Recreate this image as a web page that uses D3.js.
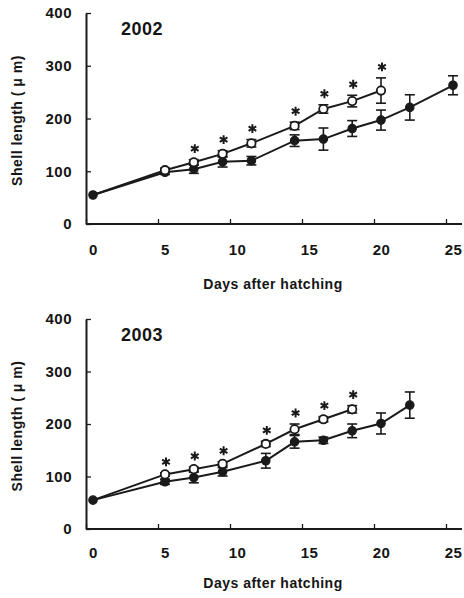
<!DOCTYPE html>
<html>
<head>
<meta charset="utf-8">
<script src="https://cdn.jsdelivr.net/npm/d3@7"></script>
<style>
  body { margin: 0; background: #fff; }
  text { font-family: "Liberation Sans", Arial, sans-serif; font-weight: bold; fill: #151515; }
</style>
</head>
<body>
<div id="chart"></div>
<script>
// 2002 season
let days2002A = [0, 5, 7, 9, 11, 14, 16, 18, 20];
let len2002A = [55, 102, 117, 133, 153, 186, 218, 233, 253];
let err2002A = [0, 4, 5, 6, 7, 7, 8, 11, 24];
let days2002B = [0, 5, 7, 9, 11, 14, 16, 18, 20, 22, 25];
let len2002B = [55, 98, 104, 118, 120, 158, 161, 181, 197, 221, 263];
let err2002B = [0, 4, 8, 10, 8, 11, 21, 15, 19, 24, 18];
let sig2002 = [7, 9, 11, 14, 16, 18, 20];

// 2003 season
let days2003A = [0, 5, 7, 9, 12, 14, 16, 18];
let len2003A = [55, 104, 114, 124, 162, 190, 209, 228];
let err2003A = [0, 3, 4, 4, 5, 10, 5, 7];
let days2003B = [0, 5, 7, 9, 12, 14, 16, 18, 20, 22];
let len2003B = [55, 90, 98, 109, 130, 166, 169, 187, 201, 236];
let err2003B = [0, 5, 10, 8, 14, 12, 6, 13, 20, 25];
let sig2003 = [5, 7, 9, 12, 14, 16, 18];

let xTicks = [0, 5, 10, 15, 20, 25];
let yTicks = [0, 100, 200, 300, 400];

const W = 464, H = 598;
const ink = "#1a1a1a";

const svg = d3.select("#chart").append("svg")
    .attr("width", W)
    .attr("height", H);

function zip(days, vals, errs) {
    return days.map((d, i) => ({ day: d, v: vals[i], e: errs[i] }));
}

function panel(opts) {
    const g = svg.append("g");
    const axisX = 86;

    const x = d3.scaleLinear().domain([0, 25]).range([93, 453]);
    const y = d3.scaleLinear().domain([0, 400]).range([opts.bottom, opts.top]);

    // y axis, ticks point inward
    const yAxis = g.append("g")
        .attr("transform", `translate(${axisX},0)`)
        .call(d3.axisLeft(y).tickValues(yTicks).tickSizeInner(-5).tickSizeOuter(0).tickPadding(14));
    yAxis.select(".domain").attr("stroke", ink).attr("stroke-width", 2);
    yAxis.selectAll(".tick line").attr("stroke", ink).attr("stroke-width", 1.3);
    yAxis.selectAll("text").style("font-size", "15px").style("letter-spacing", "0.5px").attr("fill", ink);

    // x axis, labels from the axis, tick marks drawn a little left as in the print
    const xAxis = g.append("g")
        .attr("transform", `translate(0,${opts.bottom})`)
        .call(d3.axisBottom(x).tickValues(xTicks).tickSize(0).tickPadding(opts.labelPad));
    xAxis.select(".domain").remove();
    xAxis.selectAll("text").style("font-size", "15px").style("letter-spacing", "0.5px").attr("fill", ink);
    xAxis.selectAll(".tick").append("line")
        .attr("x1", -7).attr("x2", -7)
        .attr("y1", 0).attr("y2", -5)
        .attr("stroke", ink).attr("stroke-width", 1.3);
    g.append("line")
        .attr("x1", axisX).attr("x2", 462)
        .attr("y1", opts.bottom).attr("y2", opts.bottom)
        .attr("stroke", ink).attr("stroke-width", 2);

    g.append("text")
        .attr("x", 142).attr("y", opts.top + 22)
        .attr("text-anchor", "middle")
        .style("font-size", "18px")
        .style("letter-spacing", "0.5px")
        .text(opts.year);

    g.append("text")
        .attr("transform", `translate(22,${(opts.top + opts.bottom) / 2 + 2}) rotate(-90)`)
        .attr("text-anchor", "middle")
        .style("font-size", "14px")
        .style("letter-spacing", "0.5px")
        .text("Shell length ( μ m)");

    g.append("text")
        .attr("x", 273).attr("y", opts.bottom + opts.titlePad)
        .attr("text-anchor", "middle")
        .style("font-size", "14px")
        .style("letter-spacing", "0.5px")
        .text("Days after hatching");

    const line = d3.line().x(d => x(d.day)).y(d => y(d.v));

    [opts.b, opts.a].forEach(function(s) {
        g.append("path")
            .datum(s)
            .attr("d", line)
            .attr("fill", "none")
            .attr("stroke", ink)
            .attr("stroke-width", 2);

        const eb = g.append("g").selectAll("g")
            .data(s.filter(d => d.e > 0))
            .enter().append("g")
            .attr("stroke", ink)
            .attr("stroke-width", 1.6);
        eb.append("line")
            .attr("x1", d => x(d.day)).attr("x2", d => x(d.day))
            .attr("y1", d => y(d.v - d.e)).attr("y2", d => y(d.v + d.e));
        eb.append("line")
            .attr("x1", d => x(d.day) - 5).attr("x2", d => x(d.day) + 5)
            .attr("y1", d => y(d.v + d.e)).attr("y2", d => y(d.v + d.e));
        eb.append("line")
            .attr("x1", d => x(d.day) - 5).attr("x2", d => x(d.day) + 5)
            .attr("y1", d => y(d.v - d.e)).attr("y2", d => y(d.v - d.e));
    });

    g.selectAll("circle.filled")
        .data(opts.b)
        .enter().append("circle")
        .attr("class", "filled")
        .attr("cx", d => x(d.day))
        .attr("cy", d => y(d.v))
        .attr("r", 4.2)
        .attr("fill", ink)
        .attr("stroke", ink)
        .attr("stroke-width", 1.2);

    g.selectAll("circle.open")
        .data(opts.a.filter(d => d.day > 0))
        .enter().append("circle")
        .attr("class", "open")
        .attr("cx", d => x(d.day))
        .attr("cy", d => y(d.v))
        .attr("r", 4.2)
        .attr("fill", "#fff")
        .attr("stroke", ink)
        .attr("stroke-width", 1.8);

    // significance marks above the open series
    const star = d3.symbol(d3.symbolAsterisk, 55);
    g.selectAll("path.star")
        .data(opts.a.filter(d => opts.sig.includes(d.day)))
        .enter().append("path")
        .attr("class", "star")
        .attr("d", star)
        .attr("transform", d => `translate(${x(d.day) + 1},${y(d.v + d.e) - 11})`)
        .attr("fill", "none")
        .attr("stroke", ink)
        .attr("stroke-width", 2);
}

panel({
    year: "2002", top: 13, bottom: 224, labelPad: 20, titlePad: 65,
    a: zip(days2002A, len2002A, err2002A),
    b: zip(days2002B, len2002B, err2002B),
    sig: sig2002
});

panel({
    year: "2003", top: 319, bottom: 529, labelPad: 18, titlePad: 59,
    a: zip(days2003A, len2003A, err2003A),
    b: zip(days2003B, len2003B, err2003B),
    sig: sig2003
});
</script>
</body>
</html>
